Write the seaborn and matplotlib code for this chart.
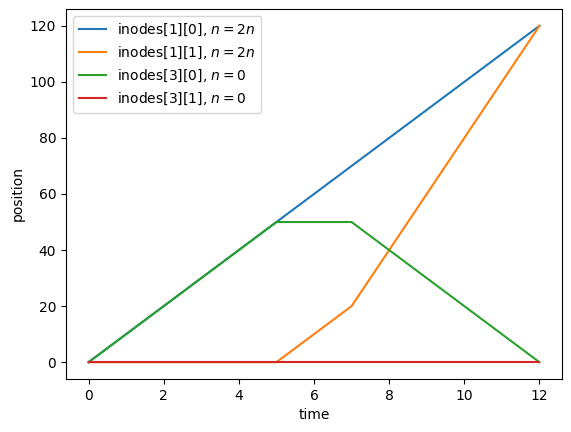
import numpy as np
import pandas as pd
import matplotlib
matplotlib.use("Agg")
import matplotlib.pyplot as plt
import seaborn as sns

# Times where the traces change slope
time = [0, 5, 7, 12]
inode_1_0 = [0, 50, 70, 120]
inode_1_1 = [0, 0, 20, 120]
inode_3_0 = [0, 50, 50, 0]
inode_3_1 = [0, 0, 0, 0]
labels = [r"inodes[1][0], $n = 2n$", r"inodes[1][1], $n = 2n$",
          r"inodes[3][0], $n = 0$", r"inodes[3][1], $n = 0$"]

fig, ax = plt.subplots(figsize=(5.71, 4.32), dpi=100)
for series, label in zip([inode_1_0, inode_1_1, inode_3_0, inode_3_1], labels):
    sns.lineplot(x=time, y=series, label=label, ax=ax)

ax.set_xlabel("time")
ax.set_ylabel("position")
ax.legend(loc="upper left")
fig.subplots_adjust(left=66 / 571, right=562 / 571, bottom=1 - 379 / 432, top=1 - 9 / 432)
plt.savefig("out.png", dpi=100)
